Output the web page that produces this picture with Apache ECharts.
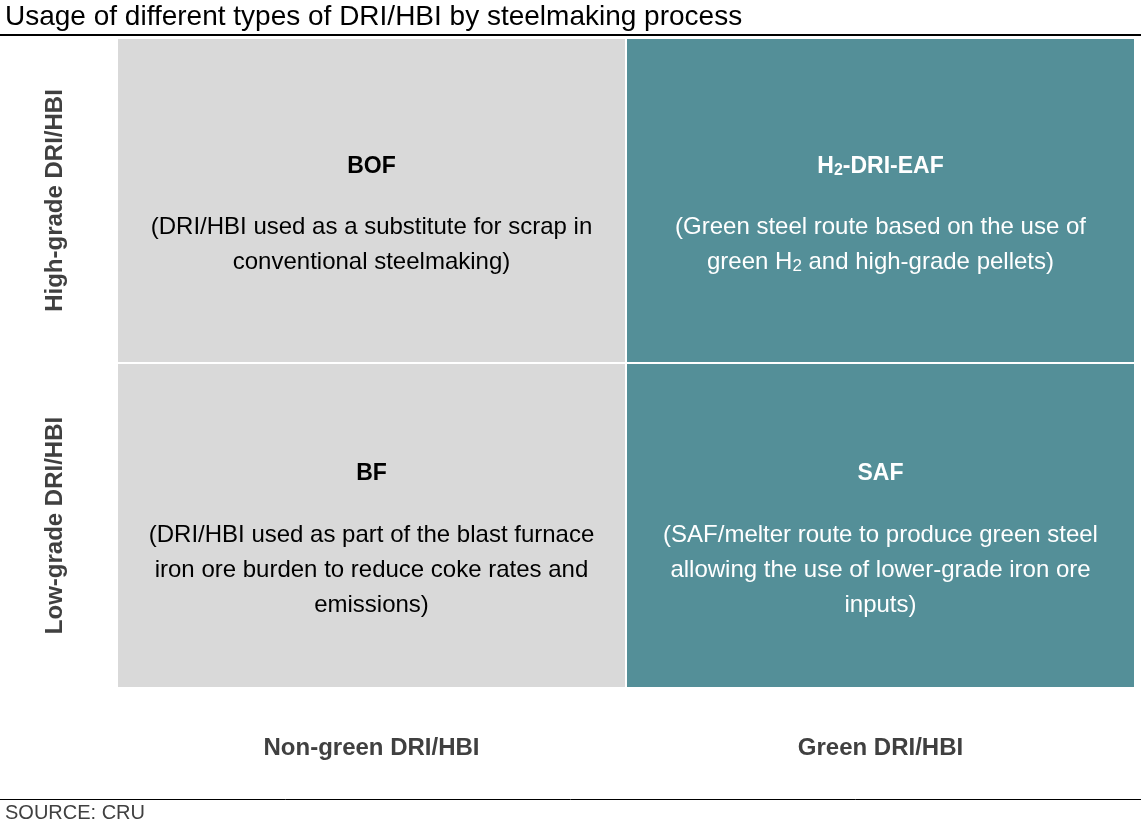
<!DOCTYPE html>
<html>
<head>
<meta charset="utf-8">
<title>DRI/HBI usage matrix</title>
<script src="https://cdn.jsdelivr.net/npm/echarts@6/dist/echarts.min.js"></script>
<style>
  html, body { margin: 0; padding: 0; background: #fff; }
  #chart { width: 1141px; height: 828px; }
</style>
</head>
<body>
<div id="chart"></div>
<script>
var chart = echarts.init(document.getElementById('chart'));

// data
var columns = ['Non-green DRI/HBI', 'Green DRI/HBI'];
var rows = ['Low-grade DRI/HBI', 'High-grade DRI/HBI'];
// [column index, row index]
var cells = [[0, 1], [1, 1], [0, 0], [1, 0]];
var routes = ['BOF', 'H2-DRI-EAF', 'BF', 'SAF'];
var notes = [
  ['(DRI/HBI used as a substitute for scrap in', 'conventional steelmaking)'],
  ['(Green steel route based on the use of', 'green H2 and high-grade pellets)'],
  ['(DRI/HBI used as part of the blast furnace', 'iron ore burden to reduce coke rates and', 'emissions)'],
  ['(SAF/melter route to produce green steel', 'allowing the use of lower-grade iron ore', 'inputs)']
];

var FONT = 'Liberation Sans, Arial, sans-serif';

// turn "H2" into H + subscript 2
function sub(str, main, small) {
  return str.split('H2').map(function (p) {
    return p ? '{' + main + '|' + p + '}' : '';
  }).join('{' + main + '|H}{' + small + '|2}');
}

function cellText(i) {
  var out = sub(routes[i], 't', 'ts') + '\n{g| }';
  notes[i].forEach(function (line) {
    out += '\n' + sub(line, 'd', 'ds');
  });
  return out;
}

var options = {
  title: {
    text: 'Usage of different types of DRI/HBI by steelmaking process',
    left: 5,
    top: 3,
    padding: 0,
    textStyle: { fontFamily: FONT, fontSize: 28, fontWeight: 'normal', color: '#000' }
  },
  grid: { left: 117, right: 6, top: 38, bottom: 140 },
  xAxis: {
    type: 'category',
    data: columns,
    axisLine: { show: false },
    axisTick: { show: false },
    splitLine: { show: false },
    axisLabel: { margin: 48, fontFamily: FONT, fontSize: 24, fontWeight: 'bold', color: '#404040' }
  },
  yAxis: {
    type: 'category',
    data: rows,
    axisLine: { show: false },
    axisTick: { show: false },
    splitLine: { show: false },
    axisLabel: { rotate: 90, margin: 50, fontFamily: FONT, fontSize: 24, fontWeight: 'bold', color: '#404040' }
  },
  series: [{
    type: 'custom',
    data: cells,
    renderItem: function (params, api) {
      var x = api.value(0);
      var y = api.value(1);
      var c = api.coord([x, y]);
      var s = api.size([1, 1]);
      var green = x === 1;
      var fg = green ? '#fff' : '#000';
      return {
        type: 'group',
        children: [{
          type: 'rect',
          shape: { x: c[0] - s[0] / 2, y: c[1] - s[1] / 2, width: s[0], height: s[1] },
          style: { fill: green ? '#548f98' : '#d9d9d9', stroke: '#fff', lineWidth: 2 }
        }, {
          type: 'text',
          x: c[0],
          y: c[1] + 14,
          style: {
            text: cellText(params.dataIndex),
            align: 'center',
            verticalAlign: 'middle',
            fontFamily: FONT,
            rich: {
              t: { fontSize: 23, fontWeight: 'bold', lineHeight: 35, fill: fg, fontFamily: FONT },
              ts: { fontSize: 16, fontWeight: 'bold', lineHeight: 16, padding: [0, 0, 5, 0], verticalAlign: 'bottom', fill: fg, fontFamily: FONT },
              g: { fontSize: 10, lineHeight: 26 },
              d: { fontSize: 24, lineHeight: 35, fill: fg, fontFamily: FONT },
              ds: { fontSize: 17, lineHeight: 17, padding: [0, 0, 5, 0], verticalAlign: 'bottom', fill: fg, fontFamily: FONT }
            }
          }
        }]
      };
    }
  }],
  graphic: [{
    type: 'line',
    shape: { x1: 0, y1: 35, x2: 1141, y2: 35 },
    style: { stroke: '#000', lineWidth: 2 }
  }, {
    type: 'line',
    shape: { x1: 0, y1: 799.5, x2: 1141, y2: 799.5 },
    style: { stroke: '#000', lineWidth: 1 }
  }, {
    type: 'text',
    left: 5,
    top: 803,
    style: { text: 'SOURCE: CRU', fontFamily: FONT, fontSize: 20, fill: '#404040' }
  }]
};
chart.setOption(options);
</script>
</body>
</html>
